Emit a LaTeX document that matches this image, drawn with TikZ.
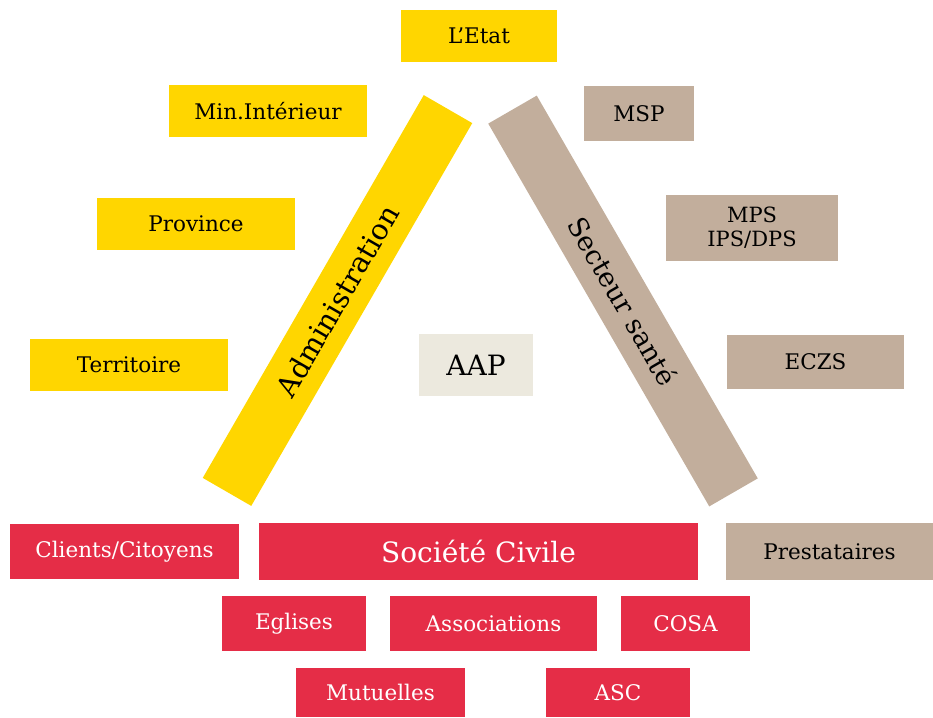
\documentclass[tikz,border=0pt]{standalone}
\usepackage{fontspec}
\setmainfont{DejaVu Serif}
\definecolor{cyel}{HTML}{FFD600}
\definecolor{ctan}{HTML}{C2AE9C}
\definecolor{cred}{HTML}{E52D47}
\definecolor{caap}{HTML}{ECE9DE}
\begin{document}
\begin{tikzpicture}[x=1pt,y=-1pt,
  box/.style={inner sep=0pt, outer sep=0pt, align=center, font=\fontsize{21.5}{24}\selectfont},
  ybox/.style={box, fill=cyel, text=black},
  tbox/.style={box, fill=ctan, text=black},
  rbox/.style={box, fill=cred, text=white},
  sz/.style 2 args={minimum width=#1pt, minimum height=#2pt}]
\useasboundingbox (0,0) rectangle (933,717);
% yellow
\node[ybox, sz={156}{52}] (etat) at (479,36) {L’Etat};
\node[ybox, sz={198}{52}] (min) at (268,111) {Min.Intérieur};
\node[ybox, sz={198}{52}] (prov) at (196,224) {Province};
\node[ybox, sz={198}{52}] (terr) at (129,365) {Territoire};
% tan
\node[tbox, sz={110}{55}] (msp) at (639,113.5) {MSP};
\node[tbox, sz={172}{66}, font=\fontsize{21}{24}\selectfont] (mps) at (752,228) {MPS\\IPS/DPS};
\node[tbox, sz={177}{54}] (eczs) at (815.5,362) {ECZS};
\node[tbox, sz={207}{57}] (prest) at (829.5,551.5) {Prestataires};
% center
\node[box, fill=caap, sz={114}{62}, font=\fontsize{28}{30}\selectfont] (aap) at (476,365) {AAP};
% bands
\node[ybox, rotate=60, sz={442}{56}, font=\fontsize{28.5}{30}\selectfont] (admin) at (337.5,300.5) {Administration};
\node[tbox, rotate=-60, sz={442}{56}, font=\fontsize{27}{30}\selectfont] (sect) at (623,301) {Secteur santé};
% red
\node[rbox, sz={229}{55}] (cli) at (124.5,551.5) {Clients/Citoyens};
\node[rbox, sz={439}{57}, font=\fontsize{28}{30}\selectfont] (soc) at (478.5,551.5) {Société Civile};
\node[rbox, sz={144}{55}] (egl) at (294,623.5) {Eglises};
\node[rbox, sz={207}{55}] (asso) at (493.5,623.5) {Associations};
\node[rbox, sz={129}{55}] (cosa) at (685.5,623.5) {COSA};
\node[rbox, sz={169}{49}] (mut) at (380.5,692.5) {Mutuelles};
\node[rbox, sz={144}{49}] (asc) at (618,692.5) {ASC};
\end{tikzpicture}
\end{document}
